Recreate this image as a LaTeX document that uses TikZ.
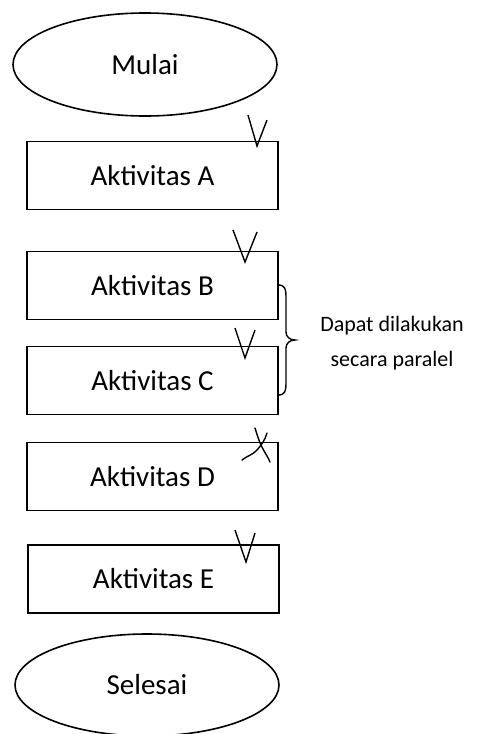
\documentclass[tikz,border=0pt]{standalone}
\usepackage{fontspec}
\setmainfont{Carlito}
\usetikzlibrary{shapes.geometric}
\begin{document}
\begin{tikzpicture}[x=1pt,y=-1pt,line width=1.6pt,
  terminal/.style={draw,ellipse,inner sep=0pt,minimum width=264pt,minimum height=103pt,font=\fontsize{29}{35}\selectfont},
  actbox/.style={draw,rectangle,inner sep=0pt,minimum width=251pt,minimum height=68pt,font=\fontsize{29}{35}\selectfont},
  tick/.style={line width=1.4pt,line join=miter},
  note/.style={align=center,font=\fontsize{22}{35}\selectfont}]
\useasboundingbox (0,0) rectangle (479,734);
\node[terminal] (mulai) at (145,64.5) {Mulai};
\node[actbox] (a) at (152.5,175.5) {Aktivitas A};
\node[actbox] (b) at (152.5,285.5) {Aktivitas B};
\node[actbox] (c) at (152.5,380.5) {Aktivitas C};
\node[actbox] (d) at (152.5,476.5) {Aktivitas D};
\node[actbox] (e) at (153.5,579) {Aktivitas E};
\node[terminal,minimum height=102pt] (selesai) at (147,685) {Selesai};
% ticks
\draw[tick] (248,115) -- (257,146) -- (267,120);
\draw[tick] (233,230) -- (245,262) -- (257,232);
\draw[tick] (235,328) -- (245,358) -- (255,330);
\draw[tick] (235,530) -- (246,562) -- (255,533);
% cross on D
\draw[tick,line cap=round] (255,428) .. controls (258,438) and (261,446) .. (263,449) .. controls (265,453) and (268,457) .. (270,462);
\draw[tick,line cap=round] (242,460) .. controls (247,456) and (252,455) .. (256,451) .. controls (261,446) and (265,440) .. (267,433);
% brace
\draw[line width=1.4pt] (278,285) .. controls (285,285) and (286,289) .. (286,296) -- (286,332) .. controls (286,337) and (290,340) .. (295,340) .. controls (290,340) and (286,343) .. (286,348) -- (286,384) .. controls (286,391) and (285,395) .. (278,395);
\node[note] (par) at (392,343) {Dapat dilakukan\\secara paralel};
\end{tikzpicture}
\end{document}
